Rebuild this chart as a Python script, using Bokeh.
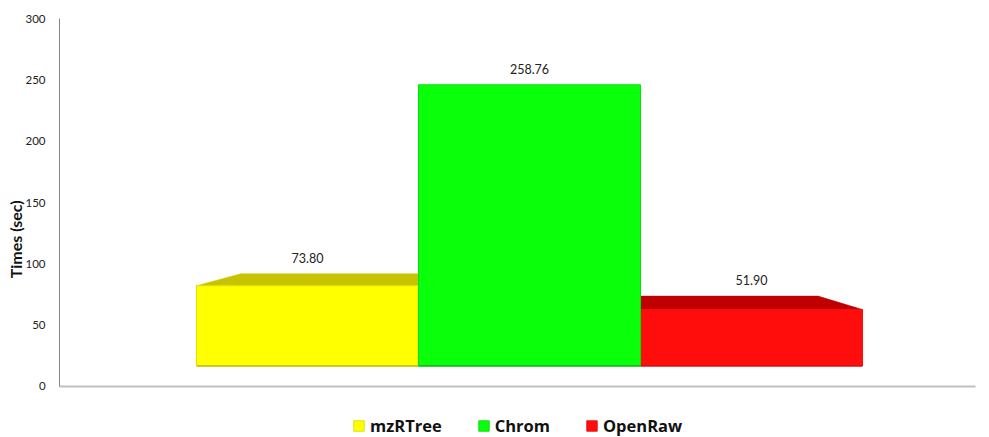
from bokeh.plotting import figure
from bokeh.models import Range1d, Legend, LegendItem, Label, ColumnDataSource, FixedTicker
from bokeh.core.properties import value
from bokeh.embed import file_html
from bokeh.resources import INLINE

series = ["mzRTree", "Chrom", "OpenRaw"]
times = [73.80, 258.76, 51.90]
labels = ["73.80", "258.76", "51.90"]
y_ticks = [0, 50, 100, 150, 200, 250, 300]
front_colors = ["#ffff00", "#0aff0a", "#ff0d0d"]
top_colors = ["#c8c300", "#0aff0a", "#c00000"]
edge_colors = ["#e0e000", "#0ae00a", "#f01010"]
floor_colors = ["#a8a800", "#0a9a1a", "#c81010"]

# The reference is a perspective 3-D bar: the value is foreshortened and
# the floor is lifted off the axis.
FLOOR = 16.7
FORESHORTEN = 0.886
PERSPECTIVE = 0.06
DEPTH = 0.2
HALF = 0.5
X_START, X_END = -1.117, 3.009

# The frame fills the page so that the legend and the axis title can sit inside it.
p = figure(width=989, height=437, output_backend="svg", toolbar_location=None,
           x_range=Range1d(-1.383, 3.072), y_range=Range1d(-41.6, 314.7),
           min_border_left=0, min_border_right=0, min_border_top=0, min_border_bottom=0)
p.grid.visible = False
p.outline_line_color = None
p.background_fill_color = "white"

front = [FLOOR + v * FORESHORTEN for v in times]
horizon = max(front)
back = [f + PERSPECTIVE * (horizon - f) for f in front]

# top faces (left bar leans inward on its left, right bar on its right)
for i, (f, b) in enumerate(zip(front, back)):
    if f == horizon:
        continue
    left_in = DEPTH if i == 0 else 0
    right_in = DEPTH if i == 2 else 0
    p.patch([i - HALF, i - HALF + left_in, i + HALF - right_in, i + HALF],
            [f, b, b, f], fill_color=top_colors[i], line_color=top_colors[i], line_width=0.5)

renderers = {}
for i in [0, 2, 1]:
    renderers[i] = p.quad(left=i - HALF, right=i + HALF, bottom=FLOOR, top=front[i],
                          fill_color=front_colors[i], line_color=edge_colors[i], line_width=1)
    p.segment(i - HALF, FLOOR, i + HALF, FLOOR, line_color=floor_colors[i], line_width=1)

src = ColumnDataSource(dict(x=[0, 1, 2], y=back, t=labels))
p.text("x", "y", text="t", source=src, text_align="center", text_baseline="middle",
       y_offset=-16, text_font=value("Lato"), text_font_size="12.5px", text_color="#222222")

p.yaxis.fixed_location = X_START
p.yaxis.bounds = (0, 300)
p.yaxis.ticker = FixedTicker(ticks=y_ticks)
p.yaxis.major_tick_line_color = None
p.yaxis.minor_tick_line_color = None
p.yaxis.axis_line_color = "#868686"
p.yaxis.axis_line_width = 1
p.yaxis.major_label_standoff = 8
p.yaxis.major_label_text_font = "Lato"
p.yaxis.major_label_text_font_size = "11.5px"
p.yaxis.major_label_text_color = "#222222"

p.xaxis.fixed_location = 0
p.xaxis.bounds = (X_START, X_END)
p.xaxis.ticker = FixedTicker(ticks=[])
p.xaxis.major_tick_line_color = None
p.xaxis.minor_tick_line_color = None
p.xaxis.axis_line_color = "#c0c0c0"
p.xaxis.axis_line_width = 2

p.add_layout(Label(x=-1.315, y=120, text="Times (sec)", angle=90, angle_units="deg",
                   text_align="center", text_baseline="middle", text_font="Lato",
                   text_font_style="bold", text_font_size="16px", text_color="#111111"))

legend = Legend(items=[LegendItem(label=series[i], renderers=[renderers[i]]) for i in range(3)],
                orientation="horizontal", location=(352, 0), margin=0, padding=0, spacing=35,
                glyph_width=13, glyph_height=13, label_standoff=5, border_line_color=None,
                background_fill_alpha=0, label_text_font="Open Sans", label_text_font_style="bold",
                label_text_font_size="16.5px", label_text_color="#111111", label_height=14)
p.add_layout(legend)

open("out.html", "w").write(file_html(p, INLINE))
